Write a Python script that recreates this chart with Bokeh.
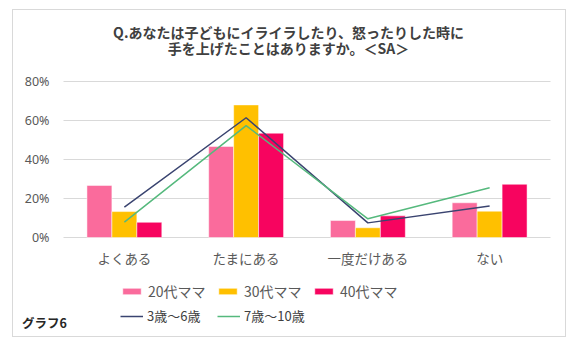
from bokeh.plotting import figure
from bokeh.models import ColumnDataSource, Range1d, Label, Legend, LegendItem
from bokeh.core.properties import value
from bokeh.transform import dodge
from bokeh.embed import file_html
from bokeh.resources import INLINE

categories = ["よくある", "たまにある", "一度だけある", "ない"]
mama20 = [26.7, 46.7, 8.7, 17.8]
mama30 = [13.3, 68.0, 5.0, 13.5]
mama40 = [7.8, 53.5, 11.1, 27.3]
age3_6 = [15.6, 61.4, 7.5, 16.1]
age7_10 = [7.9, 57.4, 9.6, 25.5]
y_ticks = [0.0, 0.2, 0.4, 0.6, 0.8]
y_tick_labels = ["0%", "20%", "40%", "60%", "80%"]

title_line1 = "Q.あなたは子どもにイライラしたり、怒ったりした時に"
title_line2 = "手を上げたことはありますか。＜SA＞"
note_text = "グラフ6"
bar_names = ["20代ママ", "30代ママ", "40代ママ"]
line_names = ["3歳〜6歳", "7歳〜10歳"]

JP = "Noto Sans CJK JP"
W, H = 554, 328

n = len(categories)
xpos = [i + 0.5 for i in range(n)]
src = ColumnDataSource(dict(
    x=xpos,
    cat=categories,
    m20=[v / 100 for v in mama20],
    m30=[v / 100 for v in mama30],
    m40=[v / 100 for v in mama40],
    a36=[v / 100 for v in age3_6],
    a710=[v / 100 for v in age7_10],
))
tick_src = ColumnDataSource(dict(y=y_ticks, label=y_tick_labels,
                                 x0=[0] * len(y_ticks), x1=[n] * len(y_ticks)))

# plot area: categories span 487px, 0..80% spans 156px; the frame is the whole canvas
x_px = 487 / n
y_px = 156 / 0.8
x_start = -50 / x_px
y_start = -101 / y_px
p = figure(width=W, height=H,
           x_range=Range1d(x_start, x_start + W / x_px),
           y_range=Range1d(y_start, y_start + H / y_px),
           output_backend="svg", toolbar_location=None, title=None,
           x_axis_type=None, y_axis_type=None,
           min_border=0, min_border_left=0, min_border_right=0,
           min_border_top=0, min_border_bottom=0)
p.styles = {"margin-left": "12px", "margin-top": "9px", "border": "1px solid #d9d9d9"}
p.outline_line_color = None
p.background_fill_color = "white"
p.border_fill_color = "white"

# gridlines
p.segment(x0="x0", x1="x1", y0="y", y1="y", source=tick_src,
          line_color="#d9d9d9", line_width=1)

# y tick labels
p.text(x="x0", y="y", text="label", source=tick_src, x_offset=-14,
       text_align="right", text_baseline="middle", text_font=value("Noto Sans"),
       text_font_size="12.5px", text_color="#595959")

# category labels
p.text(x="x", y=0, text="cat", source=src, y_offset=20,
       text_align="center", text_baseline="middle", text_font=value(JP),
       text_font_size="13.5px", text_color="#595959")

bw = 0.205
r20 = p.vbar(x=dodge("x", -bw), top="m20", width=bw, source=src,
             fill_color="#FA6B9C", line_color="white", line_width=0.5)
r30 = p.vbar(x=dodge("x", 0), top="m30", width=bw, source=src,
             fill_color="#FFC000", line_color="white", line_width=0.5)
r40 = p.vbar(x=dodge("x", bw), top="m40", width=bw, source=src,
             fill_color="#F7045F", line_color="white", line_width=0.5)
l36 = p.line(x="x", y="a36", source=src, line_color="#3A4470", line_width=1.5)
l710 = p.line(x="x", y="a710", source=src, line_color="#55B97D", line_width=1.5)

# title
for txt, yy in [(title_line1, 1.054), (title_line2, 0.970)]:
    p.add_layout(Label(x=1.848, y=yy, text=txt, text_align="center", text_baseline="middle",
                       text_font=JP, text_font_size="14px", text_font_style="bold",
                       text_color="#404040"))


def add_leg(label, rend, loc, size, color, standoff, gw, gh, style="normal"):
    lg = Legend(items=[LegendItem(label=label, renderers=[rend])], location=loc,
                orientation="horizontal", padding=0, margin=0, spacing=0,
                border_line_color=None, background_fill_alpha=0,
                glyph_width=gw, glyph_height=gh, label_standoff=standoff,
                label_text_font=JP, label_text_font_size=size, label_text_color=color,
                label_text_font_style=style, label_height=18, label_width=0)
    p.add_layout(lg, "center")


add_leg(bar_names[0], r20, (107, 37), "14px", "#595959", 5, 23, 8)
add_leg(bar_names[1], r30, (203, 37), "14px", "#595959", 5, 23, 8)
add_leg(bar_names[2], r40, (299, 37), "14px", "#595959", 5, 23, 8)
add_leg(line_names[0], l36, (107, 13), "13px", "#404040", 4, 23, 8)
add_leg(line_names[1], l710, (204, 13), "13px", "#404040", 4, 23, 8)
add_leg(note_text, l36, (9, 6), "12.5px", "#262626", 0, 0, 8, "bold")

open("out.html", "w").write(file_html(p, INLINE))
